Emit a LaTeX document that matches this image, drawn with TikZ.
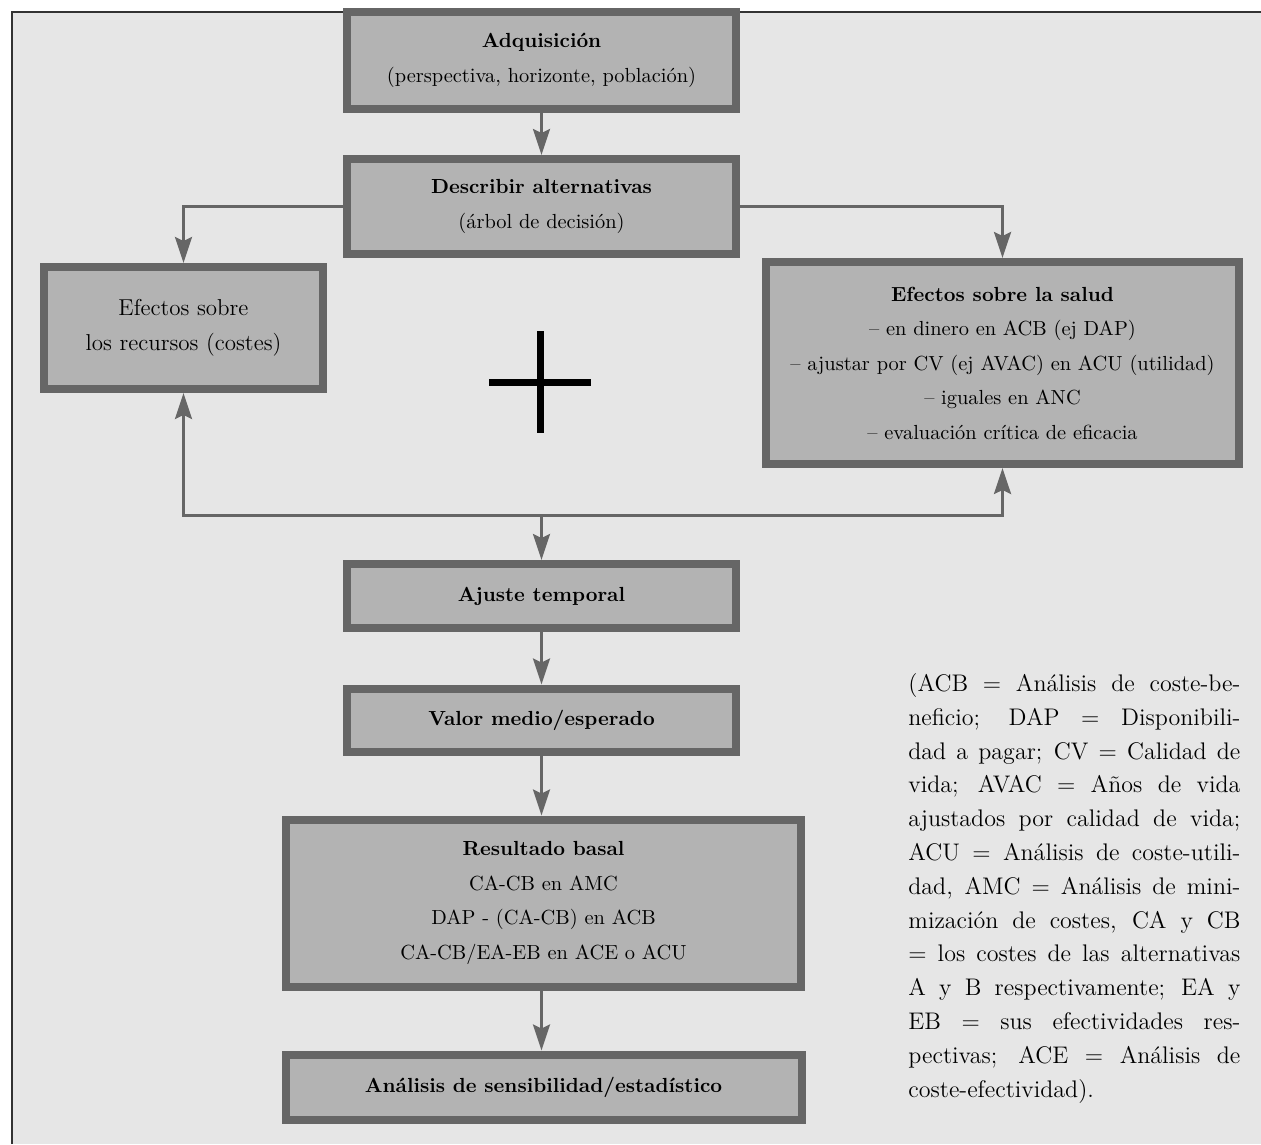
\documentclass[tikz,border=0pt]{standalone}
\usepackage{fontspec}
\usetikzlibrary{arrows.meta}

\definecolor{paperGray}{HTML}{E6E6E6}
\definecolor{boxGray}{HTML}{B3B3B3}
\definecolor{edgeGray}{HTML}{666666}
\newcommand{\boxfont}{\fontsize{10.2}{17.25}\selectfont}
\newcommand{\notefont}{\fontsize{12}{16.9}\selectfont}
\newcommand{\hd}[1]{\textbf{#1}}

\begin{document}
\begin{tikzpicture}[
    x=0.5pt, y=-0.5pt,
    stage/.style={draw=edgeGray, fill=boxGray, line width=4pt, align=center, inner sep=0pt, font=\boxfont},
    flow/.style={draw=edgeGray, line width=1.5pt, -{Stealth[length=13pt, width=8.5pt, inset=2pt]}},
    note/.style={text width=166pt, align=justify, inner sep=0pt, font=\notefont},
]
\useasboundingbox (0,0) rectangle (1261,1144);
\fill[paperGray] (12,12) rectangle (1261,1144);
\draw[black!80, line width=1pt] (12,1144) -- (12,12) -- (1261,12);

% stages
\node[stage, minimum width=194.5pt, minimum height=48.5pt] (acq) at (541.5,60.5)
    {\hd{Adquisición}\\(perspectiva, horizonte, población)};
\node[stage, minimum width=194.5pt, minimum height=47.5pt] (alt) at (541.5,206.5)
    {\hd{Describir alternativas}\\(árbol de decisión)};
\node[stage, minimum width=139.5pt, minimum height=61pt, font=\fontsize{11.5}{17.25}\selectfont] (cost) at (183.5,328)
    {Efectos sobre\\los recursos (costes)};
\node[stage, minimum width=236.5pt, minimum height=101pt] (health) at (1002.5,363)
    {\hd{Efectos sobre la salud}\\
     -- en dinero en ACB (ej DAP)\\
     -- ajustar por CV (ej AVAC) en ACU (utilidad)\\
     -- iguales en ANC\\
     -- evaluación crítica de eficacia};
\node[stage, minimum width=194.5pt, minimum height=32pt] (time) at (541.5,596)
    {\hd{Ajuste temporal}};
\node[stage, minimum width=194.5pt, minimum height=31.5pt] (mean) at (541.5,720)
    {\hd{Valor medio/esperado}};
\node[stage, minimum width=257.5pt, minimum height=83.5pt] (base) at (543.5,903)
    {\hd{Resultado basal}\\CA-CB en AMC\\DAP - (CA-CB) en ACB\\CA-CB/EA-EB en ACE o ACU};
\node[stage, minimum width=258pt, minimum height=32.5pt] (sens) at (543.5,1087)
    {\hd{Análisis de sensibilidad/estadístico}};

% plus sign
\draw[black, line width=3.5pt] (489,382) -- (591,382) (540,331) -- (540,433);

% connectors
\coordinate (bus) at (541.5,515);
\draw[flow] (acq) -- (alt);
\draw[flow] (alt.west) -| (cost.north);
\draw[flow] (alt.east) -| (health.north);
\draw[flow] (bus) -| (cost.south);
\draw[flow] (bus) -| (health.south);
\draw[flow] (bus) -- (time.north);
\draw[flow] (time) -- (mean);
\draw[flow] (mean.south) -- (mean.south |- base.north);
\draw[flow] (mean.south |- base.south) -- (mean.south |- sens.north);

% abbreviations
\node[note, anchor=north west] (legend) at (908,673) {\noindent
(ACB = Análisis de coste-be-\linebreak
neficio; DAP = Disponibili-\linebreak
dad a pagar; CV = Calidad de\linebreak
vida; AVAC = Años de vida\linebreak
ajustados por calidad de vida;\linebreak
ACU = Análisis de coste-utili-\linebreak
dad, AMC = Análisis de mini-\linebreak
mización de costes, CA y CB\linebreak
= los costes de las alternativas\linebreak
A y B respectivamente; EA y\linebreak
EB = sus efectividades res-\linebreak
pectivas; ACE = Análisis de\linebreak
coste-efectividad).};
\end{tikzpicture}
\end{document}
